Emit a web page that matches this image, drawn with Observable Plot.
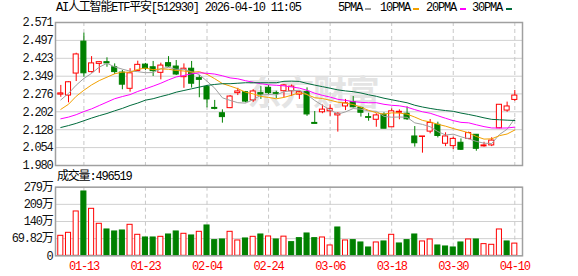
<!DOCTYPE html>
<html><head><meta charset="utf-8">
<script src="https://cdn.jsdelivr.net/npm/d3@7"></script>
<script src="https://cdn.jsdelivr.net/npm/@observablehq/plot@0.6"></script>
<style>
body{margin:0;background:#fff;}
#wrap{position:relative;width:578px;height:276px;overflow:hidden;font-family:"Liberation Mono","Noto Sans CJK SC",monospace;font-size:12px;letter-spacing:-1.2px;color:#000;}
.abs{position:absolute;white-space:nowrap;line-height:14px;}
.sw{position:absolute;height:2px;width:6px;}
#wrap svg{position:absolute;left:0;overflow:visible;}
#wrap svg text{letter-spacing:-1.2px;}
</style></head><body>
<div id="wrap"></div>
<script>
// ---- data ----
const title = "AI人工智能ETF平安";
const code = "512930";
const stamp = "2026-04-10 11:05";
const volLabel = "成交量";
const lastVolumeRaw = "496519";
const maNames = ["5PMA", "10PMA", "20PMA", "30PMA"];

const dates = ["01-08","01-09","01-12","01-13","01-14","01-15","01-16","01-19","01-20","01-21",
  "01-22","01-23","01-26","01-27","01-28","01-29","01-30","02-02","02-03","02-04",
  "02-05","02-06","02-09","02-10","02-11","02-12","02-13","02-24","02-25","02-26",
  "02-27","03-02","03-03","03-04","03-05","03-06","03-09","03-10","03-11","03-12",
  "03-13","03-16","03-17","03-18","03-19","03-20","03-23","03-24","03-25","03-26",
  "03-27","03-30","03-31","04-01","04-02","04-03","04-07","04-08","04-09","04-10"];

const open  = [2.273,2.269,2.360,2.492,2.366,2.400,2.407,2.386,2.364,2.297,
  2.371,2.397,2.386,2.363,2.403,2.389,2.345,2.380,2.341,2.304,
  2.218,2.196,2.217,2.279,2.283,2.249,2.279,2.301,2.279,2.287,
  2.287,2.273,2.283,2.156,2.200,2.204,2.187,2.224,2.242,2.218,
  2.180,2.169,2.190,2.138,2.198,2.194,2.100,2.098,2.120,2.148,
  2.070,2.060,2.074,2.090,2.107,2.059,2.063,2.134,2.207,2.251];
const high  = [2.311,2.326,2.444,2.527,2.430,2.409,2.425,2.400,2.373,2.380,
  2.411,2.402,2.410,2.403,2.430,2.414,2.400,2.410,2.352,2.311,
  2.249,2.210,2.269,2.299,2.286,2.293,2.306,2.311,2.287,2.315,
  2.313,2.287,2.301,2.203,2.230,2.231,2.198,2.253,2.265,2.221,
  2.196,2.194,2.198,2.214,2.210,2.222,2.141,2.100,2.170,2.159,
  2.115,2.097,2.090,2.118,2.107,2.076,2.095,2.232,2.242,2.290];
const low   = [2.262,2.239,2.327,2.345,2.362,2.361,2.386,2.356,2.293,2.283,
  2.370,2.372,2.348,2.334,2.386,2.352,2.299,2.300,2.260,2.218,
  2.210,2.155,2.215,2.269,2.239,2.241,2.253,2.273,2.256,2.260,
  2.265,2.253,2.183,2.152,2.194,2.183,2.118,2.207,2.218,2.180,
  2.163,2.138,2.132,2.138,2.169,2.166,2.056,2.031,2.111,2.094,
  2.058,2.046,2.042,2.087,2.039,2.056,2.058,2.132,2.200,2.245];
const close = [2.278,2.324,2.439,2.361,2.402,2.407,2.402,2.366,2.314,2.361,
  2.396,2.380,2.370,2.393,2.389,2.356,2.380,2.318,2.334,2.253,
  2.214,2.180,2.265,2.286,2.244,2.286,2.273,2.279,2.276,2.311,
  2.306,2.283,2.191,2.152,2.211,2.214,2.194,2.237,2.221,2.198,
  2.177,2.187,2.132,2.204,2.202,2.171,2.072,2.100,2.156,2.102,
  2.100,2.090,2.045,2.114,2.049,2.063,2.083,2.231,2.224,2.269];
// volume in 万 (10k shares)
const volume = [81.4,93.6,180.5,261.9,191.3,130.3,107.2,99.1,103.1,126.2,
  85.5,74.6,74.6,77.3,86.8,99.1,89.6,82.8,97.7,123.5,
  63.8,66.5,97.7,62.4,70.6,77.3,86.8,78.7,66.5,78.0,
  55.6,71.9,90.9,71.9,74.6,42.1,115.3,62.4,63.8,54.3,
  33.9,54.3,58.4,85.5,50.2,63.8,86.8,58.4,66.5,42.1,
  38.0,33.9,54.3,66.5,66.5,47.5,44.8,107.2,58.4,49.6519];

const ma5Lead  = [2.251,2.278,2.312,2.340];
const ma10Lead = [2.212,2.233,2.266,2.291,2.313,2.331,2.345,2.359,2.366];
const ma20Lead = [2.173,2.180,2.190,2.203,2.214,2.228,2.242,2.256,2.265,2.273,
  2.286,2.297,2.308,2.320,2.334,2.346,2.352,2.359,2.363];
const ma30Lead = [2.137,2.145,2.154,2.165,2.176,2.186,2.195,2.206,2.216,2.228,
  2.238,2.250,2.256,2.265,2.273,2.283,2.290,2.297,2.304,2.311,
  2.315,2.318,2.318,2.320,2.322,2.322,2.322,2.322,2.322];

const priceTicks = [1.980,2.054,2.128,2.202,2.276,2.349,2.423,2.497,2.571];
const volTicks = [0,69.82,139.64,209.46,279.28];
const volTickLabels = ["0","69.82万","140万","209万","279万"];
const xTickLabels = ["01-13","01-23","02-04","02-24","03-06","03-18","03-30","04-10"];

// ---- styling ----
const RED = "#ff0000", GREEN = "#008000";
const maColors = ["#a0a0a0", "#f2a100", "#ff00ff", "#006b3c"];
const FONT = '"Liberation Mono","Noto Sans CJK SC",monospace';

const idx = d3.range(dates.length);
const xDomain = [-0.69, 60.0];
const xTickIdx = xTickLabels.map(l => dates.indexOf(l));
const hw = 0.33;

function movingAvg(n, lead) {
  return close.map((c, i) => i < n - 1 ? lead[i] : d3.mean(close.slice(i - n + 1, i + 1)));
}
const mas = [movingAvg(5, ma5Lead), movingAvg(10, ma10Lead), movingAvg(20, ma20Lead), movingAvg(30, ma30Lead)];

const candles = idx.map(i => ({i, o: open[i], h: high[i], l: low[i], c: close[i]}));
const upC = candles.filter(d => d.c >= d.o);
const dnC = candles.filter(d => d.c < d.o);

const vols = idx.map(i => ({i, v: volume[i], up: close[i] >= (i === 0 ? open[0] : close[i - 1])}));
const upV = vols.filter(d => d.up), dnV = vols.filter(d => !d.up);

const gridStyle = {stroke: "#d0d0d0", strokeWidth: 1};
const dashStyle = {stroke: "#c8c8c8", strokeDasharray: "4,3", strokeWidth: 1};

const pricePlot = Plot.plot({
  width: 578, height: 178,
  marginLeft: 55, marginRight: 56, marginTop: 22, marginBottom: 13,
  x: {domain: xDomain, axis: null},
  y: {domain: [1.980, 2.571], axis: null},
  style: {fontFamily: FONT, fontSize: "12px", background: "transparent", color: "#000", overflow: "visible"},
  marks: [
    Plot.ruleY(priceTicks, gridStyle),
    Plot.ruleX(xTickIdx, dashStyle),
    Plot.text(["东方财富"], {frameAnchor: "middle", dx: 24, dy: 0, fontSize: 34, fontWeight: "bold", fill: "#e4e4e4", fontFamily: '"Noto Sans CJK SC"'}),
    Plot.ruleX(upC, {x: "i", y1: "l", y2: "h", stroke: RED}),
    Plot.ruleX(dnC, {x: "i", y1: "l", y2: "h", stroke: GREEN}),
    Plot.rect(upC, {x1: d => d.i - hw, x2: d => d.i + hw, y1: "o", y2: "c", fill: "white", stroke: RED}),
    Plot.rect(dnC, {x1: d => d.i - hw, x2: d => d.i + hw, y1: "o", y2: "c", fill: GREEN, stroke: GREEN}),
    ...mas.map((m, k) => Plot.lineY(m, {x: idx, stroke: maColors[k], strokeWidth: 1})),
    Plot.axisY(priceTicks, {anchor: "left", label: null, tickSize: 0, tickPadding: 3, tickFormat: d3.format(".3f"), fontSize: 12, color: "#111"}),
    Plot.frame({stroke: "#a0a0a0", strokeWidth: 1.5})
  ]
});
pricePlot.style.top = "0px";

const volPlot = Plot.plot({
  width: 578, height: 98,
  marginLeft: 55, marginRight: 56, marginTop: 8.7, marginBottom: 20.7,
  x: {domain: xDomain, axis: null},
  y: {domain: [0, 279.28], axis: null},
  style: {fontFamily: FONT, fontSize: "12px", background: "transparent", color: "#000", overflow: "visible"},
  marks: [
    Plot.ruleY(volTicks, gridStyle),
    Plot.ruleX(xTickIdx, dashStyle),
    Plot.rect(upV, {x1: d => d.i - hw, x2: d => d.i + hw, y1: 0, y2: "v", fill: "white", stroke: RED}),
    Plot.rect(dnV, {x1: d => d.i - hw, x2: d => d.i + hw, y1: 0, y2: "v", fill: GREEN, stroke: GREEN}),
    Plot.axisY(volTicks, {anchor: "left", label: null, tickSize: 0, tickPadding: 3, tickFormat: d => volTickLabels[volTicks.indexOf(d)], fontSize: 12, color: "#111"}),
    Plot.axisX(xTickIdx, {anchor: "bottom", label: null, tickSize: 0, tickPadding: 6, tickFormat: i => dates[i], fontSize: 12, color: RED}),
    Plot.frame({stroke: "#a0a0a0", strokeWidth: 1.5})
  ]
});
volPlot.style.top = "178px";

const wrap = document.getElementById("wrap");
wrap.append(pricePlot, volPlot);

function addText(txt, left, top) {
  const d = document.createElement("div");
  d.className = "abs"; d.textContent = txt;
  d.style.left = left + "px"; d.style.top = top + "px";
  wrap.append(d);
}
function addSwatch(color, left, top) {
  const d = document.createElement("div");
  d.className = "sw"; d.style.background = color;
  d.style.left = left + "px"; d.style.top = top + "px";
  wrap.append(d);
}
addText(`${title}[${code}] ${stamp}`, 56, 1);
const legLeft = [338, 380, 426, 472];
const swLeft = [365, 412.5, 459.5, 505.5];
maNames.forEach((n, k) => { addText(n, legLeft[k], 1); addSwatch(maColors[k], swLeft[k], 8); });
addText(`${volLabel}:${lastVolumeRaw}`, 57, 170);
</script>
</body></html>
